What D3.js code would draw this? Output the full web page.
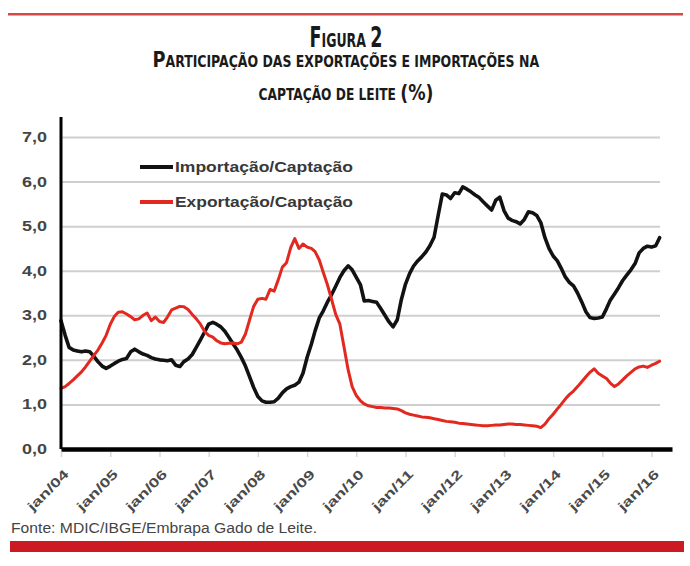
<!DOCTYPE html>
<html>
<head>
<meta charset="utf-8">
<script src="https://cdn.jsdelivr.net/npm/d3@7"></script>
<style>
  body { margin: 0; background: #fff; }
  svg { display: block; }
</style>
</head>
<body>
<div id="chart"></div>
<script>
var width = 690;
var height = 566;

// monthly values, jan/2004 .. mar/2016 (% of milk intake)
var importacao = [
  2.88, 2.55, 2.28, 2.22, 2.20, 2.18, 2.20, 2.18, 2.08, 1.96, 1.86, 1.81,
  1.86, 1.92, 1.97, 2.01, 2.03, 2.18, 2.24, 2.18, 2.13, 2.10, 2.05, 2.02,
  2.00, 1.99, 1.98, 2.00, 1.88, 1.85, 1.96, 2.02, 2.12, 2.28, 2.45, 2.62,
  2.80, 2.84, 2.80, 2.74, 2.64, 2.50, 2.36, 2.22, 2.05, 1.86, 1.62, 1.38,
  1.18, 1.08, 1.05, 1.05, 1.06, 1.14, 1.26, 1.35, 1.40, 1.43, 1.50, 1.70,
  2.06, 2.35, 2.65, 2.94, 3.10, 3.30, 3.46, 3.65, 3.85, 4.00, 4.11, 4.02,
  3.85, 3.68, 3.32, 3.33, 3.31, 3.29, 3.15, 3.00, 2.85, 2.74, 2.90, 3.35,
  3.70, 3.94, 4.10, 4.22, 4.31, 4.42, 4.56, 4.75, 5.25, 5.72, 5.70, 5.62,
  5.75, 5.73, 5.88, 5.83, 5.77, 5.70, 5.64, 5.54, 5.45, 5.36, 5.58, 5.65,
  5.35, 5.18, 5.13, 5.10, 5.05, 5.15, 5.32, 5.30, 5.24, 5.08, 4.74, 4.50,
  4.33, 4.22, 4.06, 3.86, 3.74, 3.66, 3.50, 3.30, 3.08, 2.95, 2.93, 2.94,
  2.96, 3.15, 3.34, 3.48, 3.62, 3.78, 3.90, 4.02, 4.16, 4.40, 4.50, 4.55,
  4.53, 4.56, 4.74
];

var exportacao = [
  1.36, 1.40, 1.47, 1.55, 1.64, 1.73, 1.84, 1.97, 2.10, 2.22, 2.38, 2.55,
  2.80, 2.98, 3.07, 3.08, 3.03, 2.97, 2.90, 2.92, 3.00, 3.05, 2.88, 2.96,
  2.86, 2.84, 2.96, 3.12, 3.16, 3.20, 3.19, 3.13, 3.02, 2.92, 2.80, 2.64,
  2.55, 2.51, 2.43, 2.38, 2.36, 2.37, 2.38, 2.36, 2.40, 2.58, 2.90, 3.20,
  3.36, 3.38, 3.36, 3.58, 3.54, 3.80, 4.08, 4.18, 4.52, 4.72, 4.50, 4.60,
  4.53, 4.50, 4.43, 4.24, 3.96, 3.68, 3.36, 3.02, 2.80, 2.30, 1.78, 1.40,
  1.20, 1.08, 1.01, 0.97, 0.95, 0.93, 0.93, 0.92, 0.92, 0.91, 0.90, 0.86,
  0.81, 0.78, 0.76, 0.74, 0.72, 0.71, 0.70, 0.68, 0.66, 0.64, 0.62, 0.61,
  0.60, 0.58, 0.57, 0.56, 0.55, 0.54, 0.53, 0.52, 0.52, 0.53, 0.54, 0.54,
  0.55, 0.56, 0.56, 0.55, 0.55, 0.54, 0.53, 0.52, 0.51, 0.48, 0.56, 0.68,
  0.78, 0.90, 1.00, 1.12, 1.22, 1.30, 1.40, 1.51, 1.62, 1.72, 1.80, 1.70,
  1.64, 1.58, 1.48, 1.40, 1.46, 1.55, 1.64, 1.72, 1.80, 1.84, 1.86, 1.83,
  1.88, 1.92, 1.97
];

var firstMonth = "2004-01";
var lastAxisMonth = "2016-06";
var xTickLabels = ["jan/04", "jan/05", "jan/06", "jan/07", "jan/08", "jan/09", "jan/10",
  "jan/11", "jan/12", "jan/13", "jan/14", "jan/15", "jan/16"];
var yTicks = [0, 1, 2, 3, 4, 5, 6, 7];
var seriesNames = ["Importação/Captação", "Exportação/Captação"];
var seriesColors = ["#121212", "#e3281f"];
var titleLines = ["Figura 2", "Participação das exportações e importações na", "captação de leite (%)"];
var sourceText = "Fonte: MDIC/IBGE/Embrapa Gado de Leite.";

var parseMonth = d3.timeParse("%Y-%m");
var parseTick = d3.timeParse("%b/%y");
var startDate = parseMonth(firstMonth);
var months = importacao.map((d, i) => d3.timeMonth.offset(startDate, i));
var tickDates = xTickLabels.map(s => parseTick(s.replace("jan", "Jan")));

var svg = d3.select("#chart")
  .append("svg")
  .attr("width", width)
  .attr("height", height);

// red rules top & bottom
svg.append("rect").attr("x", 8).attr("y", 13).attr("width", 675).attr("height", 2.5).attr("fill", "#d44848");
svg.append("rect").attr("x", 10).attr("y", 541).attr("width", 674).attr("height", 11).attr("fill", "#cc1a22");

// title in small caps, squeezed to a condensed look with scaleX
var titleSizes = [[28, 20], [22, 15.5], [22, 15.5]];
var titleY = [47, 67, 100];
var titleLen = [73, 387, 175];
titleLines.forEach((line, k) => {
  var g = svg.append("g");
  var t = g.append("text")
    .attr("x", 0)
    .attr("y", 0)
    .attr("font-family", "'Liberation Sans Narrow', 'DejaVu Sans Condensed', 'Liberation Sans', sans-serif")
    .attr("font-weight", "bold")
    .attr("fill", "#1a1a1a");
  var runs = [];
  line.split("").forEach(ch => {
    var small = ch !== ch.toUpperCase() || ch === " ";
    if (ch === " " && runs.length) small = runs[runs.length - 1].small;
    if (runs.length && runs[runs.length - 1].small === small) runs[runs.length - 1].txt += ch;
    else runs.push({ small: small, txt: ch });
  });
  runs.forEach(r => {
    t.append("tspan")
      .attr("font-size", r.small ? titleSizes[k][1] : titleSizes[k][0])
      .text(r.txt.toUpperCase());
  });
  var w = t.node().getComputedTextLength();
  var sx = titleLen[k] / w;
  g.attr("transform", "translate(" + (346 - titleLen[k] / 2) + "," + titleY[k] + ") scale(" + sx + ",1)");
});

var x = d3.scaleTime()
  .domain([startDate, parseMonth(lastAxisMonth)])
  .range([61, 672]);

var y = d3.scaleLinear()
  .domain([0, 7])
  .range([449, 137]);

// grid + y labels
var yAxis = d3.axisLeft(y)
  .tickValues(yTicks)
  .tickSize(-(660 - 61))
  .tickPadding(14)
  .tickFormat(d => d3.format(".1f")(d).replace(".", ","));

var gy = svg.append("g")
  .attr("transform", "translate(61,0)")
  .call(yAxis);
gy.select(".domain").remove();
gy.selectAll(".tick line")
  .attr("stroke", "#cfcfcf")
  .attr("stroke-width", 2);
gy.selectAll(".tick text")
  .attr("font-family", "'Liberation Sans', Arial, sans-serif")
  .attr("font-weight", "bold")
  .attr("font-size", 14)
  .attr("fill", "#454545")
  .attr("textLength", 25)
  .attr("lengthAdjust", "spacingAndGlyphs");

// series lines
var line = d3.line()
  .x((d, i) => x(months[i]))
  .y(d => y(d));

[importacao, exportacao].forEach((series, k) => {
  svg.append("path")
    .datum(series)
    .attr("d", line)
    .attr("fill", "none")
    .attr("stroke", seriesColors[k])
    .attr("stroke-width", k === 0 ? 3.6 : 3)
    .attr("stroke-linejoin", "round")
    .attr("stroke-linecap", "round");
});

// y axis line
svg.append("line")
  .attr("x1", 61).attr("x2", 61)
  .attr("y1", 117).attr("y2", y(0))
  .attr("stroke", "#000")
  .attr("stroke-width", 3);

// x axis
var xAxis = d3.axisBottom(x)
  .tickValues(tickDates)
  .tickSize(5)
  .tickSizeOuter(0)
  .tickFormat((d, i) => xTickLabels[i]);

var gx = svg.append("g")
  .attr("transform", "translate(0," + y(0) + ")")
  .call(xAxis);
gx.select(".domain")
  .attr("stroke", "#000")
  .attr("stroke-width", 4.5);
gx.selectAll(".tick line")
  .attr("stroke", "#d8d8d8")
  .attr("stroke-width", 1.5)
  .attr("y1", 3)
  .attr("y2", 8);
gx.selectAll(".tick text")
  .attr("x", 0)
  .attr("y", 0)
  .attr("dy", 0)
  .attr("text-anchor", "end")
  .attr("transform", "translate(8,26) rotate(-45)")
  .attr("font-family", "'Liberation Sans', Arial, sans-serif")
  .attr("font-weight", "bold")
  .attr("font-size", 13)
  .attr("fill", "#4a4a4a")
  .attr("textLength", 52)
  .attr("lengthAdjust", "spacingAndGlyphs");

// legend
var legend = svg.append("g").attr("id", "legend");
seriesNames.forEach((name, k) => {
  var ly = 167 + k * 35;
  legend.append("line")
    .attr("x1", 140).attr("x2", 173)
    .attr("y1", ly).attr("y2", ly)
    .attr("stroke", seriesColors[k])
    .attr("stroke-width", 4);
  legend.append("text")
    .attr("x", 175)
    .attr("y", ly)
    .attr("dy", "0.36em")
    .attr("font-family", "'Liberation Sans', Arial, sans-serif")
    .attr("font-weight", "bold")
    .attr("font-size", 14)
    .attr("fill", "#383838")
    .attr("textLength", 178)
    .attr("lengthAdjust", "spacingAndGlyphs")
    .text(name);
});

// source
svg.append("text")
  .attr("x", 11)
  .attr("y", 533)
  .attr("font-family", "'Liberation Sans', Arial, sans-serif")
  .attr("font-size", 14)
  .attr("fill", "#444")
  .attr("textLength", 306)
  .attr("lengthAdjust", "spacingAndGlyphs")
  .text(sourceText);
</script>
</body>
</html>
